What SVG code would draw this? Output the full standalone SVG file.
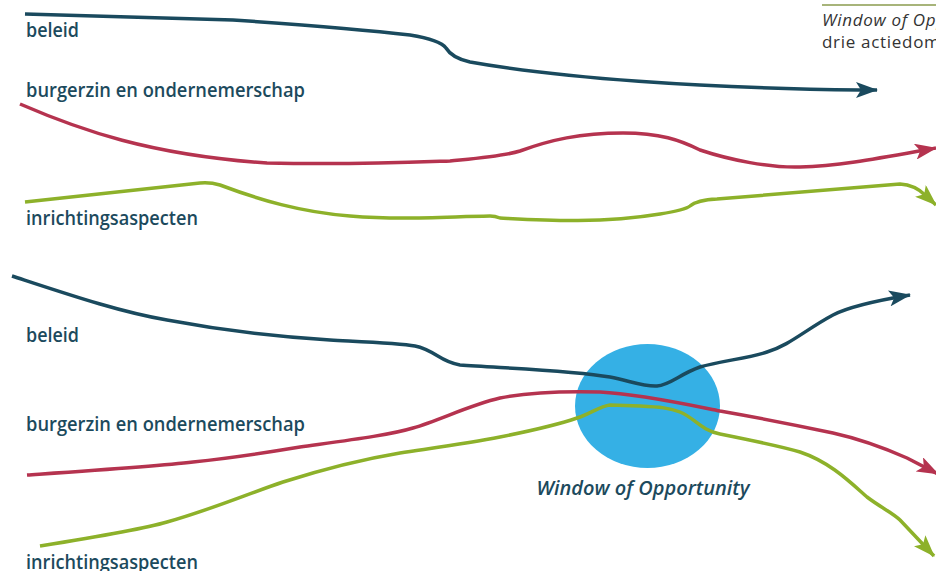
<svg xmlns="http://www.w3.org/2000/svg" width="936" height="571" viewBox="0 0 936 571">
<style>
.lbl{font-family:"Open Sans","Noto Sans",sans-serif;font-weight:600;font-size:19px;fill:#1c4a5d}
.ln{fill:none;stroke-width:3.5;stroke-linejoin:round}
.b{stroke:#1a4a5e}.r{stroke:#b5334f}.g{stroke:#8db12a}
.side{font-family:"Open Sans","Noto Sans",sans-serif;font-size:17px;fill:#333;letter-spacing:0.7px}
</style>
<defs>
<marker id="ab" viewBox="0 0 22 16" refX="21" refY="8" markerWidth="22" markerHeight="16" orient="auto" markerUnits="userSpaceOnUse"><path d="M0,0 L22,8 L0,16 L5,8 z" fill="#1a4a5e"/></marker>
<marker id="ar" viewBox="0 0 22 16" refX="21" refY="8" markerWidth="22" markerHeight="16" orient="auto" markerUnits="userSpaceOnUse"><path d="M0,0 L22,8 L0,16 L5,8 z" fill="#b5334f"/></marker>
<marker id="ag" viewBox="0 0 22 16" refX="21" refY="8" markerWidth="22" markerHeight="16" orient="auto" markerUnits="userSpaceOnUse"><path d="M0,0 L22,8 L0,16 L5,8 z" fill="#8db12a"/></marker>
</defs>
<g id="side-note">
<line x1="822" y1="5" x2="936" y2="5" stroke="#8a9b4e" stroke-width="1.5"/>
<text class="side" x="822" y="26" font-style="italic">Window of Opportunity</text>
<text class="side" x="822" y="48">drie actiedomeinen</text>
</g>
<g id="window">
<ellipse cx="647.5" cy="406" rx="72.5" ry="62" fill="#35b0e5"/>
</g>
<g id="labels">
<text class="lbl" x="26" y="37" textLength="53" lengthAdjust="spacingAndGlyphs">beleid</text>
<text class="lbl" x="26" y="97" textLength="279" lengthAdjust="spacingAndGlyphs">burgerzin en ondernemerschap</text>
<text class="lbl" x="26" y="225" textLength="172" lengthAdjust="spacingAndGlyphs">inrichtingsaspecten</text>
<text class="lbl" x="26" y="342" textLength="53" lengthAdjust="spacingAndGlyphs">beleid</text>
<text class="lbl" x="26" y="431" textLength="279" lengthAdjust="spacingAndGlyphs">burgerzin en ondernemerschap</text>
<text class="lbl" x="26" y="569" textLength="172" lengthAdjust="spacingAndGlyphs">inrichtingsaspecten</text>
<text class="lbl" x="643" y="495" text-anchor="middle" font-style="italic" textLength="213" lengthAdjust="spacingAndGlyphs">Window of Opportunity</text>
</g>
<g id="connectors">
<path class="ln b" marker-end="url(#ab)" d="M25,14 L233,20 Q350,28 410,35 Q440,40 446,48 Q452,58 470,62 C560,78 700,88 860,90 L877,90"/>
<path class="ln r" marker-end="url(#ar)" d="M20,104 C80,130 150,155 267,163 C350,165 420,162 450,161 C480,158 505,156 520,151 C550,140 580,133 623,133 C660,133 680,140 700,150 C730,160 770,168 800,167 C840,166 880,158 936,148"/>
<path class="ln g" marker-end="url(#ag)" d="M25,202 L200,183 Q210,182 220,185 C260,200 300,212 350,216 C400,220 440,217 490,216 Q495,216 500,218 C540,220 600,224 660,214 Q685,210 690,206 Q697,200 717,199 L900,184 Q915,185 925,195 L936,205"/>
<path class="ln b" marker-end="url(#ab)" d="M12,276 C70,295 120,312 167,320 C220,330 280,337 330,340 C370,342 400,343 415,346 C435,350 440,362 460,365 C500,368 570,370 610,377 C630,381 645,387 657,386 C670,385 680,374 700,367 C720,361 750,358 767,352 C790,345 805,330 833,315 C850,306 880,300 910,295"/>
<path class="ln r" marker-end="url(#ar)" d="M27,475 C100,470 160,466 193,462 C230,458 270,452 300,447 C350,440 390,435 413,428 C440,420 470,405 500,398 C530,392 560,391 600,392 C640,394 690,405 720,411 C760,418 800,426 833,433 C860,439 880,446 907,458 L938,474"/>
<path class="ln g" marker-end="url(#ag)" d="M40,546 C90,538 140,530 167,522 C210,510 250,493 283,482 C330,467 370,458 400,453 C440,447 470,443 500,437 C530,431 560,424 577,418 C590,414 600,406 610,405 L640,406 C660,407 670,408 680,412 C695,418 700,430 720,434 C750,440 780,446 800,452 C830,462 850,482 867,497 C880,507 893,513 900,520 L934,556"/>
</g>
</svg>
